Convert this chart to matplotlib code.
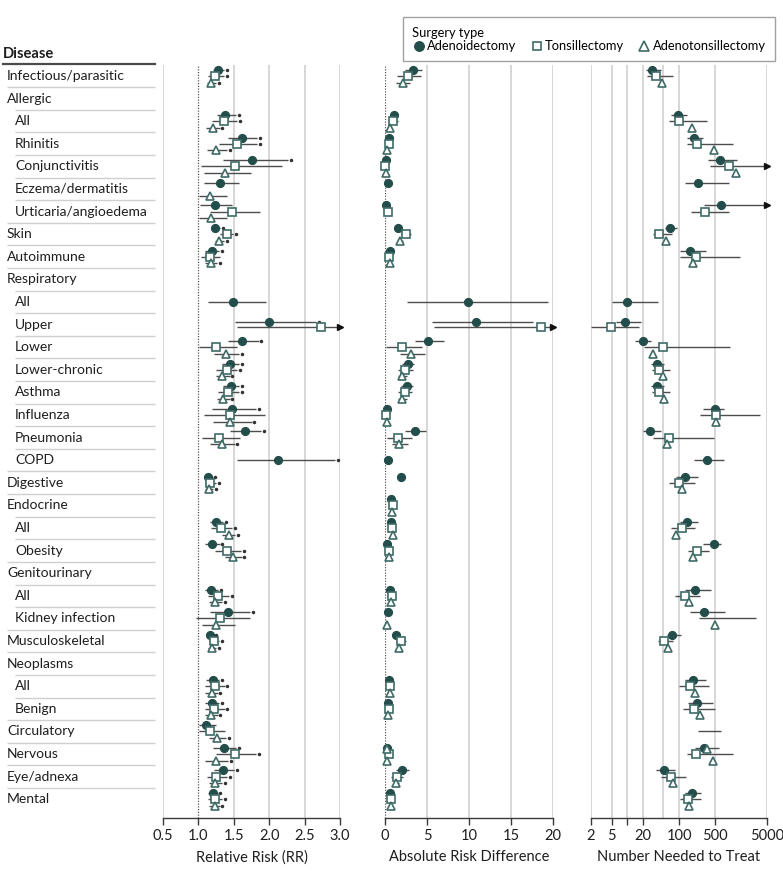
import numpy as np
import matplotlib
matplotlib.use("Agg")
import matplotlib.pyplot as plt
from matplotlib.lines import Line2D

plt.rcParams['font.family'] = ['Lato', 'DejaVu Sans']

N = None
NaN = float('nan')

rows = ["Infectious/parasitic", "Allergic", "All", "Rhinitis", "Conjunctivitis",
        "Eczema/dermatitis", "Urticaria/angioedema", "Skin", "Autoimmune",
        "Respiratory", "All", "Upper", "Lower", "Lower-chronic", "Asthma",
        "Influenza", "Pneumonia", "COPD", "Digestive", "Endocrine", "All",
        "Obesity", "Genitourinary", "All", "Kidney infection", "Musculoskeletal",
        "Neoplasms", "All", "Benign", "Circulatory", "Nervous", "Eye/adnexa", "Mental"]
indent = [0, 0, 1, 1, 1, 1, 1, 0, 0, 0, 1, 1, 1, 1, 1, 1, 1, 1, 0, 0, 1, 1, 0, 1, 1, 0,
          0, 1, 1, 0, 0, 0, 0]

series_names = ["Adenoidectomy", "Tonsillectomy", "Adenotonsillectomy"]

# ---- Relative risk (estimate, lower, upper) ----
rr_adeno = [(1.28, 1.21, 1.36), N, (1.38, 1.26, 1.53), (1.62, 1.42, 1.83), (1.75, 1.35, 2.27),
            (1.31, 1.08, 1.58), (1.23, 1.02, 1.47), (1.24, 1.18, 1.31), (1.19, 1.10, 1.29), N,
            (1.49, 1.13, 1.96), (2.00, 1.52, 2.66), (1.62, 1.42, 1.85), (1.45, 1.34, 1.58),
            (1.46, 1.35, 1.58), (1.47, 1.19, 1.81), (1.66, 1.45, 1.89), (2.12, 1.54, 2.93),
            (1.14, 1.09, 1.20), N, (1.25, 1.17, 1.35), (1.19, 1.09, 1.30), N, (1.18, 1.09, 1.28),
            (1.42, 1.16, 1.73), (1.16, 1.11, 1.21), N, (1.20, 1.11, 1.29), (1.19, 1.10, 1.29),
            (1.11, 1.01, 1.25), (1.36, 1.20, 1.53), (1.35, 1.22, 1.50), (1.20, 1.14, 1.27)]
rr_tonsil = [(1.24, 1.13, 1.36), N, (1.36, 1.19, 1.55), (1.54, 1.29, 1.83), (1.51, 1.03, 2.18),
             N, (1.47, 1.16, 1.87), (1.40, 1.30, 1.49), (1.16, 1.03, 1.31), N,
             N, (2.73, 1.55, 3.60), (1.25, 1.01, 1.54), (1.40, 1.25, 1.55),
             (1.42, 1.28, 1.58), (1.44, 1.08, 1.94), (1.29, 1.05, 1.59), N,
             (1.17, 1.09, 1.25), N, (1.32, 1.18, 1.47), (1.41, 1.24, 1.60), N, (1.27, 1.14, 1.43),
             (1.30, 0.97, 1.73), (1.22, 1.16, 1.29), N, (1.23, 1.10, 1.37), (1.22, 1.09, 1.37),
             (1.17, 1.01, 1.38), (1.51, 1.25, 1.81), (1.25, 1.12, 1.40), (1.23, 1.14, 1.33)]
rr_adenoton = [(1.18, 1.12, 1.25), N, (1.21, 1.11, 1.30), (1.25, 1.12, 1.41), (1.37, 1.08, 1.74),
               (1.17, 1.01, 1.40), (1.18, 1.01, 1.41), (1.29, 1.23, 1.36), (1.18, 1.10, 1.26), N,
               N, N, (1.39, 1.22, 1.57), (1.34, 1.25, 1.44),
               (1.35, 1.26, 1.44), (1.45, 1.21, 1.75), (1.33, 1.16, 1.51), N,
               (1.15, 1.10, 1.21), N, (1.43, 1.34, 1.52), (1.49, 1.38, 1.61), N, (1.24, 1.15, 1.34),
               (1.25, 1.05, 1.51), (1.19, 1.14, 1.25), N, (1.19, 1.10, 1.27), (1.18, 1.09, 1.27),
               (1.26, 1.15, 1.39), (1.25, 1.10, 1.42), (1.24, 1.15, 1.33), (1.23, 1.15, 1.30)]
# significance markers shown next to RR intervals
rr_sig_adeno = [1, 0, 1, 1, 1, 0, 0, 1, 1, 0, 0, 1, 1, 1, 1, 1, 1, 1, 1, 0, 1, 1, 0, 1, 1, 1, 0, 1, 1, 0, 1, 1, 1]
rr_sig_tonsil = [1, 0, 1, 1, 0, 0, 0, 1, 0, 0, 0, 0, 0, 1, 1, 0, 0, 0, 1, 0, 1, 1, 0, 1, 0, 1, 0, 1, 1, 0, 1, 1, 1]
rr_sig_adenoton = [1, 0, 1, 1, 0, 0, 0, 1, 1, 0, 0, 0, 1, 1, 1, 1, 1, 0, 1, 0, 1, 1, 0, 1, 0, 1, 0, 1, 1, 1, 1, 1, 1]

# ---- Absolute risk difference ----
ard_adeno = [(3.33, 2.34, 4.44), N, (1.03, 0.75, 1.35), (0.52, 0.40, 0.65), (0.16, 0.10, 0.22),
             (0.40, 0.30, 0.50), (0.08, 0.03, 0.13), (1.51, 1.25, 1.80), (0.56, 0.40, 0.75), N,
             (9.88, 2.62, 19.4), (10.79, 5.6, 17.6), (5.12, 3.53, 6.98), (2.74, 1.98, 3.49),
             (2.58, 1.94, 3.33), (0.20, 0.12, 0.28), (3.53, 2.42, 4.92), (0.32, 0.22, 0.42),
             (1.90, 1.70, 2.10), (0.75, 0.60, 0.90), (0.67, 0.50, 0.85), (0.28, 0.15, 0.40), N,
             (0.55, 0.40, 0.70), (0.36, 0.20, 0.50), (1.31, 1.10, 1.50), N, (0.52, 0.40, 0.65),
             (0.40, 0.30, 0.50), N, (0.28, 0.15, 0.40), (1.98, 1.27, 2.85), (0.55, 0.45, 0.65)]
ard_tonsil = [(2.78, 1.47, 4.25), N, (0.95, 0.60, 1.50), (0.44, 0.30, 0.60), (0.04, 0.00, 0.10),
              N, (0.32, 0.20, 0.45), (2.46, 1.87, 3.10), (0.48, 0.25, 0.70), N,
              N, (18.6, 5.87, 22.0), (2.02, 0.16, 4.44), (2.34, 1.55, 3.33),
              (2.38, 1.55, 3.25), (0.16, 0.08, 0.25), (1.51, 0.24, 3.25), N,
              N, (0.95, 0.75, 1.15), (0.83, 0.60, 1.05), (0.44, 0.30, 0.60), N,
              (0.83, 0.60, 1.10), N, (1.94, 1.50, 2.50), N, (0.63, 0.45, 0.80),
              (0.52, 0.35, 0.70), N, (0.44, 0.25, 0.65), (1.47, 0.75, 2.15), (0.67, 0.50, 0.85)]
ard_adenoton = [(2.10, 1.27, 3.02), N, (0.56, 0.35, 0.80), (0.28, 0.15, 0.40), (0.12, 0.05, 0.20),
                N, N, (1.79, 1.50, 2.10), (0.60, 0.45, 0.75), N,
                N, N, (3.13, 1.75, 4.72), (2.02, 1.55, 2.62),
                (2.02, 1.50, 2.60), (0.20, 0.10, 0.30), (1.71, 0.87, 2.74), N,
                N, (0.87, 0.70, 1.05), (0.99, 0.80, 1.20), (0.48, 0.35, 0.60), N,
                (0.67, 0.50, 0.85), (0.24, 0.10, 0.40), (1.71, 1.50, 1.90), N, (0.56, 0.40, 0.70),
                (0.36, 0.25, 0.50), (0.24, 0.10, 0.35), (0.20, 0.10, 0.30), (1.31, 1.03, 1.67),
                (0.71, 0.55, 0.85)]

# ---- Number needed to treat ----
nnt_adeno = [(30, 23.5, 44), N, (94, 70, 143), (195, 143, 286), (628, 363, 1320),
             (236, 128, 922), (656, 308, 9000), (66, 53, 91), (166, 106, 332), N,
             (9.9, 5, 38.7), (8.9, 6, 18.5), (19.9, 14, 29), (37.6, 29, 52),
             (38, 29, 52), (502, 286, 725), (28, 20.5, 44), (347, 198, 738),
             (128, 86, 229), N, (145, 103, 229), (467, 289, 645), N,
             (200, 128, 415), (299, 166, 760), (73, 59, 107), N, (186, 128, 332),
             (226, 147, 447), N, (299, 207, 583), (51, 36, 83), (175, 128, 266)]
nnt_tonsil = [(36.5, 24, 77), N, (101, 65, 347), (222, 143, 1100), (935, 390, 9000),
              N, (313, 168, 935), (41, 32, 73), (213, 106, 1480), N,
              N, (4.9, 2, 17), (49, 21, 980), (42, 30, 68),
              (42, 30, 68), (525, 250, 3700), (65, 31, 478), N,
              (98, 65, 200), N, (116, 71, 207), (219, 149, 385), N,
              (128, 83, 258), (NaN, 246, 3090), (51, 39, 77), N, (166, 100, 380),
              (198, 118, 496), (NaN, 229, 645), (216, 141, 1087), (70, 44, 136), (151, 106, 266)]
nnt_adenoton = [(47, 47, 47), N, (178, 178, 178), (467, 467, 467), (1260, 1260, 1260),
                N, N, (56, 56, 56), (184, 184, 184), N,
                N, N, (31.5, 31.5, 31.5), (49, 49, 49),
                (51, 51, 51), (518, 518, 518), (58, 58, 58), N,
                (112, 112, 112), N, (86, 86, 86), (187, 187, 187), N,
                (154, 154, 154), (488, 488, 488), (60, 60, 60), N, (207, 207, 207),
                (250, 250, 250), (347, 347, 347), (453, 453, 453), (77, 77, 77), (158, 158, 158)]

# ---------------- styling ----------------
W, H = 783, 871
DARK = '#234d4a'
EDGE = '#3f6b67'
WHISK = '#4d4d4d'
GRID = '#d4d4d4'
TXT = '#1e1e1e'

fig = plt.figure(figsize=(W / 100, H / 100), dpi=100)

def fx(px):
    return px / W

def fy(py):
    return 1 - py / H

top_px, bot_px = 65, 818
row0_px, pitch = 76, 22.6
nrows = len(rows)
ylim = (nrows - 1 + (bot_px - (row0_px + (nrows - 1) * pitch)) / pitch, -(row0_px - top_px) / pitch)

# marker vertical layout for each row
present = []
for i in range(nrows):
    p = [any(tab[i] is not None for tab in grp) for grp in
         ((rr_adeno, ard_adeno, nnt_adeno), (rr_tonsil, ard_tonsil, nnt_tonsil),
          (rr_adenoton, ard_adenoton, nnt_adenoton))]
    present.append(p)

def offsets(i):
    p = present[i]
    idx = [k for k in range(3) if p[k]]
    if not idx:
        return [0, 0, 0]
    span = idx[-1] - idx[0] + 1
    if span == 3:
        return [-0.27, 0.0, 0.29]
    if span == 2:
        base = [-0.13, 0.10]
        out = [0, 0, 0]
        for j, k in enumerate(range(idx[0], idx[-1] + 1)):
            out[k] = base[j]
        return out
    return [0, 0, 0]

# extra vertical shift seen in the reference for one marker
extra_shift = {("ard", 29, 2): 0.5, ("nnt", 29, 2): 0.5}

# ---------------- label column ----------------
axl = fig.add_axes([0, fy(bot_px), fx(160), (bot_px - top_px) / H])
axl.set_xlim(0, 160)
axl.set_ylim(*ylim)
axl.axis('off')
for i, name in enumerate(rows):
    axl.text(15 if indent[i] else 7, i, name, va='center', ha='left', fontsize=10.0, color=TXT)
    if i < nrows - 1:
        x0 = 15 if indent[i + 1] else 7
        axl.plot([x0, 155], [i + 0.5, i + 0.5], color='#d0d0d0', lw=1.0, solid_capstyle='butt')
fig.text(fx(3), fy(54), "Disease", fontsize=10.6, fontweight='bold', color=TXT, va='center', ha='left')
fig.add_artist(Line2D([fx(3), fx(155)], [fy(64.5), fy(64.5)], color='#4a4a4a', lw=1.6))

# ---------------- panels ----------------
panels = [
    dict(key='rr', left=163, right=340, xlim=(0.5, 3.0), log=False,
         grid=[0.5, 1.5, 2.0, 2.5, 3.0], ref=1.0,
         ticks=[0.5, 1.0, 1.5, 2.0, 2.5, 3.0], labels=['0.5', '1.0', '1.5', '2.0', '2.5', '3.0'],
         data=[rr_adeno, rr_tonsil, rr_adenoton], sig=[rr_sig_adeno, rr_sig_tonsil, rr_sig_adenoton],
         xlabel='Relative Risk (RR)'),
    dict(key='ard', left=385, right=553, xlim=(0, 20), log=False,
         grid=[5, 10, 15, 20], ref=0,
         ticks=[0, 5, 10, 15, 20], labels=['0', '5', '10', '15', '20'],
         data=[ard_adeno, ard_tonsil, ard_adenoton], sig=None,
         xlabel='Absolute Risk Difference'),
    dict(key='nnt', left=591, right=767, xlim=(2, 5000), log=True,
         grid=[2, 5, 10, 20, 50, 100, 500, 5000], ref=None,
         ticks=[2, 5, 10, 20, 100, 500, 5000], labels=['2', '5', '', '20', '100', '500', '5000'],
         data=[nnt_adeno, nnt_tonsil, nnt_adenoton], sig=None,
         xlabel='Number Needed to Treat'),
]

mstyles = [dict(marker='o', ms=5.8, mfc=DARK, mec=DARK, mew=0.8),
           dict(marker='s', ms=5.2, mfc='white', mec=EDGE, mew=1.2),
           dict(marker='^', ms=5.8, mfc='white', mec=EDGE, mew=1.2)]

for P in panels:
    ax = fig.add_axes([fx(P['left']), fy(bot_px), fx(P['right'] - P['left']), (bot_px - top_px) / H])
    if P['log']:
        ax.set_xscale('log')
    ax.set_xlim(*P['xlim'])
    ax.set_ylim(*ylim)
    for g in P['grid']:
        ax.axvline(g, color=GRID, lw=1.3, zorder=0)
    if P['ref'] is not None:
        ax.axvline(P['ref'], color='#555555', lw=0.9, ls=(0, (1, 1.2)), zorder=1)
    xmin, xmax = P['xlim']
    for k, tab in enumerate(P['data']):
        for i, v in enumerate(tab):
            if v is None:
                continue
            est, lo, hi = v
            y = i + offsets(i)[k] + extra_shift.get((P['key'], i, k), 0)
            hi_c = min(hi, xmax)
            if hi > lo:
                ax.plot([max(lo, xmin), hi_c], [y, y], color=WHISK, lw=1.0, zorder=2,
                        solid_capstyle='butt', clip_on=False)
            if hi > xmax:
                ax.plot([xmax], [y], marker='>', ms=4.5, color='#111111', zorder=3, clip_on=False)
            if not np.isnan(est):
                ax.plot([est], [y], ls='none', zorder=4, clip_on=False, **mstyles[k])
            if P['sig'] is not None and P['sig'][k][i]:
                ax.plot([hi + 0.04], [y], marker='o', ms=1.5, color='#333333', ls='none', zorder=3)
    ax.set_xticks(P['ticks'])
    ax.set_xticklabels(P['labels'])
    ax.minorticks_off()
    ax.set_yticks([])
    for s in ('top', 'left', 'right'):
        ax.spines[s].set_visible(False)
    ax.spines['bottom'].set_color('#3a3a3a')
    ax.spines['bottom'].set_linewidth(1.0)
    ax.tick_params(axis='x', direction='out', length=5, width=1.0, color='#3a3a3a',
                   labelsize=10.5, labelcolor=TXT, pad=3)
    ax.set_xlabel(P['xlabel'], fontsize=10.5, color=TXT, labelpad=5)
    ax.patch.set_alpha(0)

# ---------------- legend ----------------
leg_styles = [dict(marker='o', ms=7.0, mfc=DARK, mec=DARK, mew=0.8),
              dict(marker='s', ms=6.2, mfc='white', mec=EDGE, mew=1.2),
              dict(marker='^', ms=7.0, mfc='white', mec=EDGE, mew=1.2)]
handles = [Line2D([], [], ls='none', **leg_styles[k]) for k in range(3)]
leg = fig.legend(handles, series_names, title='Surgery type', ncol=3,
                 loc='upper right', bbox_to_anchor=(fx(781), fy(11)),
                 frameon=True, fancybox=False, edgecolor='#8a8a8a', fontsize=9.3,
                 title_fontsize=9.3, alignment='left', handletextpad=0.15,
                 columnspacing=1.05, handlelength=1.0, borderpad=0.7, labelspacing=0.15)
leg.get_frame().set_linewidth(1.0)

fig.savefig('out.png', dpi=100)
